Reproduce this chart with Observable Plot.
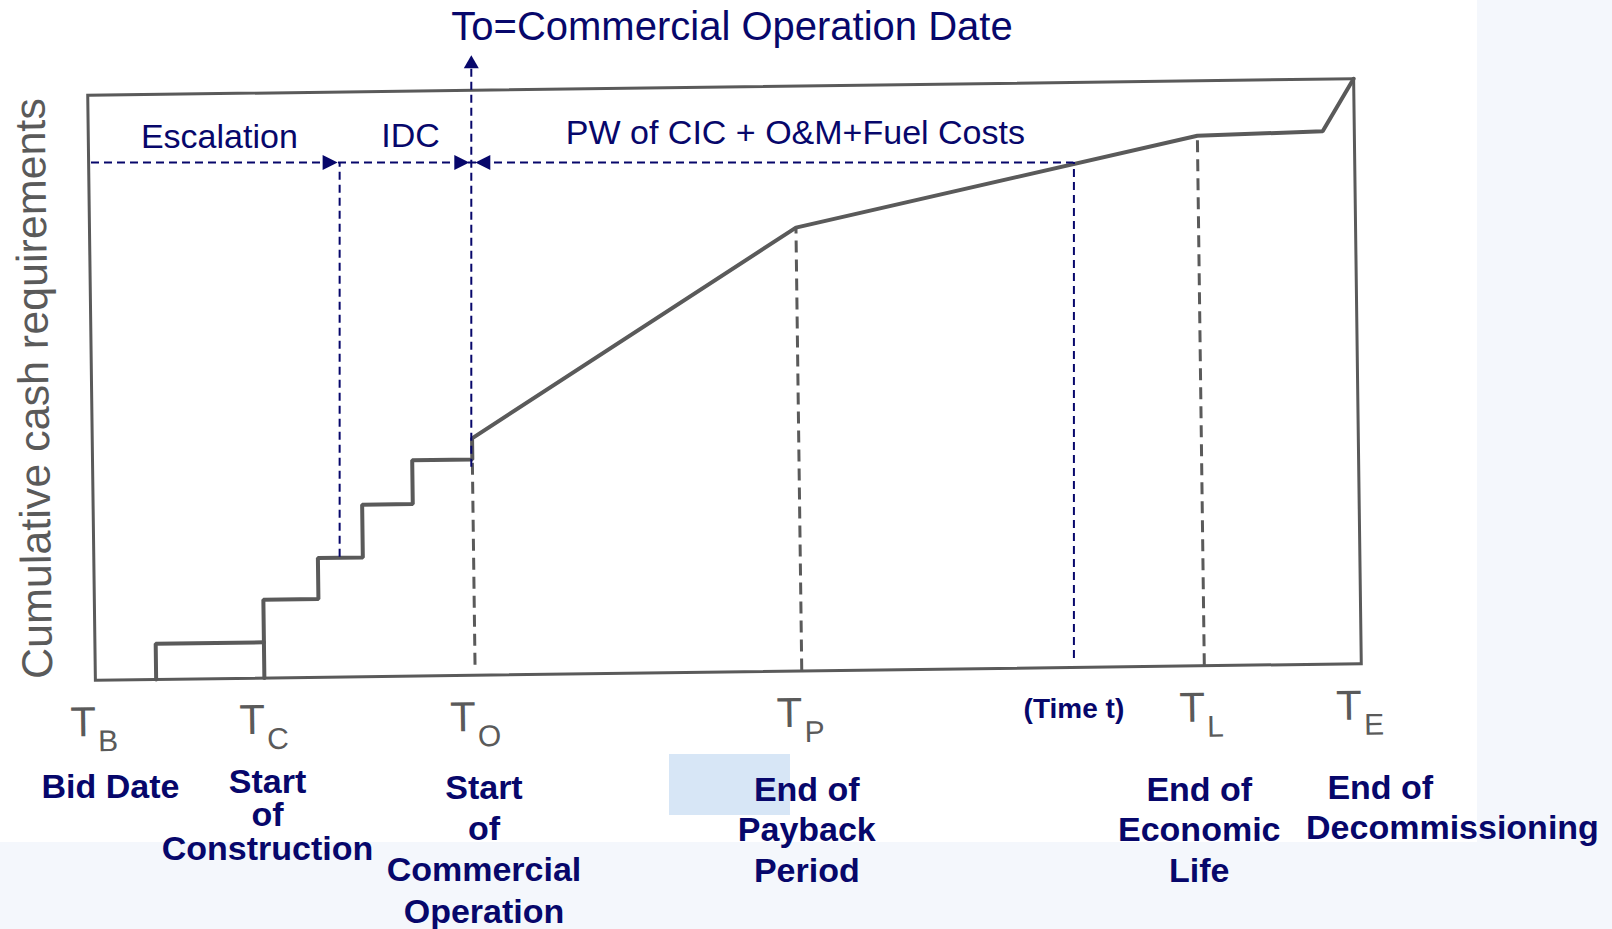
<!DOCTYPE html>
<html><head><meta charset="utf-8">
<script src="https://cdn.jsdelivr.net/npm/d3@7"></script>
<script src="https://cdn.jsdelivr.net/npm/@observablehq/plot@0.6"></script>
<style>
html,body{margin:0;padding:0;background:#f4f7fc;overflow:hidden;}
#stage{position:relative;width:1612px;height:929px;}
#paper{position:absolute;left:0;top:0;width:1477px;height:842px;background:#fff;}
#hilite{position:absolute;left:669px;top:754px;width:121px;height:61px;background:#d7e6f6;}
#scan,#notes{position:absolute;left:0;top:0;width:1612px;height:929px;}
#scan{transform:rotate(-0.75deg);transform-origin:724px 379px;}
</style></head><body>
<div id="stage"><div id="paper"></div><div id="hilite"></div><div id="scan"></div><div id="notes"></div></div>
<script>
// ---- data (time on x, cumulative cash on y; both 0..100 across the frame) ----
const stepTimes = [4.8, 13.35, 17.7, 21.25, 25.25, 30.0];
const stepLevels = [6.1, 13.4, 20.4, 29.4, 36.9, 40.5];
const opTimes = [55.8, 87.6, 97.5, 100];
const opLevels = [75.8, 90.6, 91.1, 100];
const milestoneNames = ["B", "C", "O", "P", "L", "E"];
const milestoneTimes = [0, 13.35, 30.0, 55.8, 87.6, 100];
const dropTimes = [30.0, 55.8, 87.6];
const dropTops = [36.9, 75.8, 90.6];
const dropBottoms = [1.7, 0, 0];
const timeT = 77.6;
const cashAtT = 87.1;
const escalationEnd = 19.6;
const escalationFloor = 19.6;
const timeTFloor = 2.3;
const codTime = 30.0;
const codLineTop = 103.2;
const codLineBottom = 35;
const spanNames = ["Escalation", "IDC", "PW of CIC + O&M+Fuel Costs"];
const spanCenters = [10.1, 25.2, 55.6];
const eventNames = ["Bid Date", "Start\nof\nConstruction", "Start\nof\nCommercial\nOperation",
  "End of\nPayback\nPeriod", "(Time t)", "End of\nEconomic\nLife", "End of", "Decommissioning"];
const eventCenters = [1.5, 13.9, 31.0, 56.5, 77.6, 87.5, 101.8, 107.5];
const titleText = "To=Commercial Operation Date";
const yLabel = "Cumulative cash requirements";

// ---- derived tables ----
const bidBox = [
  {t: stepTimes[0], v: 0}, {t: stepTimes[0], v: stepLevels[0]}, {t: stepTimes[1], v: stepLevels[0]}
];
const build = [{t: stepTimes[1], v: 0}, {t: stepTimes[1], v: stepLevels[1]}];
for (let i = 2; i < stepTimes.length; i++) {
  build.push({t: stepTimes[i], v: stepLevels[i - 1]});
  build.push({t: stepTimes[i], v: stepLevels[i]});
}
opTimes.forEach((t, i) => build.push({t, v: opLevels[i]}));
const milestones = milestoneNames.map((n, i) => ({n, t: milestoneTimes[i]}));
const drops = dropTimes.map((t, i) => ({t, top: dropTops[i], bottom: dropBottoms[i]}));
const spans = spanNames.map((s, i) => ({s, t: spanCenters[i]}));
const events = eventNames.map((s, i) => ({s, t: eventCenters[i]}));

// ---- style ----
const NAVY = "#07076b", GREY = "#5a5a5a";
const W = 1612, H = 929, ML = 91, MR = 255, MT = 86.5, MB = 257.5;
const frameBottom = H - MB;
const FONT = "'Liberation Sans', Arial, Helvetica, sans-serif";
const base = {
  width: W, height: H,
  marginLeft: ML, marginRight: MR, marginTop: MT, marginBottom: MB,
  x: {domain: [0, 100], axis: null},
  y: {domain: [0, 100], axis: null},
  style: {background: "transparent", fontFamily: FONT, overflow: "visible"}
};

const arrowRight = {draw(c) { c.moveTo(0, 0); c.lineTo(-15, -7.5); c.lineTo(-15, 7.5); c.closePath(); }};
const arrowLeft = {draw(c) { c.moveTo(0, 0); c.lineTo(15, -7.5); c.lineTo(15, 7.5); c.closePath(); }};
const arrowUp = {draw(c) { c.moveTo(0, -13); c.lineTo(-7.5, 0); c.lineTo(7.5, 0); c.closePath(); }};

function eventLabel(i, baseline, fs, lh) {
  return Plot.text([events[i]], {
    x: "t", text: "s", frameAnchor: "bottom", lineAnchor: "top", lineHeight: lh,
    dy: baseline - frameBottom - 0.71 * lh * fs, fontSize: fs, fontWeight: "bold",
    fill: NAVY, textAnchor: "middle"
  });
}

// scanned drawing (the whole layer is tilted slightly, like the scan)
const scan = Plot.plot({
  ...base,
  marks: [
    Plot.frame({stroke: GREY, strokeWidth: 3}),
    Plot.ruleX(drops, {x: "t", y1: "bottom", y2: "top", stroke: GREY, strokeWidth: 3, strokeDasharray: "12,7"}),
    Plot.line(bidBox, {x: "t", y: "v", stroke: GREY, strokeWidth: 4, strokeLinejoin: "miter"}),
    Plot.line(build, {x: "t", y: "v", stroke: GREY, strokeWidth: 4, strokeLinejoin: "miter"}),
    Plot.text(milestones, {x: "t", text: () => "T", frameAnchor: "bottom", dy: 56, lineAnchor: "bottom",
      textAnchor: "end", fontSize: 42, fill: GREY}),
    Plot.text(milestones, {x: "t", text: "n", frameAnchor: "bottom", dy: 71, dx: 2, lineAnchor: "bottom",
      textAnchor: "start", fontSize: 30, fill: GREY}),
    Plot.text([yLabel], {frameAnchor: "left", dx: -57, rotate: -90, textAnchor: "middle",
      fontSize: 43, fill: GREY})
  ]
});

// overlay annotations
const notes = Plot.plot({
  ...base,
  marks: [
    Plot.ruleY([cashAtT], {x1: 0, x2: timeT, stroke: NAVY, strokeWidth: 2, strokeDasharray: "8,5"}),
    Plot.ruleX([escalationEnd], {y1: escalationFloor, y2: cashAtT, stroke: NAVY, strokeWidth: 2, strokeDasharray: "8,5"}),
    Plot.ruleX([codTime], {y1: codLineBottom, y2: codLineTop, stroke: NAVY, strokeWidth: 2, strokeDasharray: "8,5"}),
    Plot.ruleX([timeT], {y1: timeTFloor, y2: cashAtT, stroke: NAVY, strokeWidth: 2, strokeDasharray: "8,5"}),
    Plot.dot([escalationEnd, codTime], {x: d => d, y: () => cashAtT, dx: -2, symbol: arrowRight, fill: NAVY, stroke: "none"}),
    Plot.dot([codTime], {x: d => d, y: () => cashAtT, dx: 4, symbol: arrowLeft, fill: NAVY, stroke: "none"}),
    Plot.dot([codTime], {x: d => d, y: () => codLineTop, symbol: arrowUp, fill: NAVY, stroke: "none"}),

    Plot.text([titleText], {x: () => codTime, frameAnchor: "top", dx: -20, dy: 39 - MT, lineAnchor: "bottom",
      textAnchor: "start", fontSize: 40, fill: NAVY}),
    Plot.text([spans[0]], {x: "t", y: () => cashAtT, text: "s", dy: -14, lineAnchor: "bottom", fontSize: 34, fill: NAVY}),
    Plot.text([spans[1]], {x: "t", y: () => cashAtT, text: "s", dy: -15, lineAnchor: "bottom", fontSize: 34, fill: NAVY}),
    Plot.text([spans[2]], {x: "t", y: () => cashAtT, text: "s", dy: -18, lineAnchor: "bottom", fontSize: 34, fill: NAVY}),

    eventLabel(0, 797, 34, 1),
    eventLabel(1, 792, 34, 1),
    eventLabel(2, 798, 34, 1.22),
    eventLabel(3, 800, 34, 1.2),
    eventLabel(4, 717, 28, 1),
    eventLabel(5, 800, 34, 1.2),
    eventLabel(6, 798, 34, 1),
    eventLabel(7, 838, 34, 1)
  ]
});

document.getElementById("scan").appendChild(scan);
document.getElementById("notes").appendChild(notes);
</script></body></html>
